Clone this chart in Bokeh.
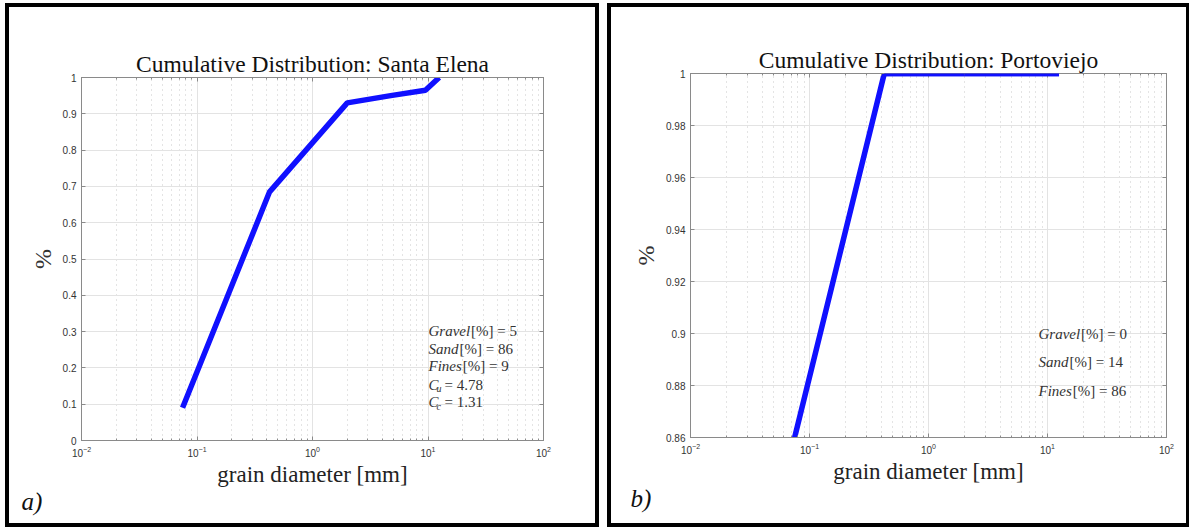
import numpy as np
from bokeh.plotting import figure
from bokeh.models import (LogAxis, LinearAxis, Title, ColumnDataSource, FixedTicker,
                          LogTicker, Range1d, CustomJSTickFormatter, Arrow)
from bokeh.layouts import row, column
from bokeh.embed import file_html
from bokeh.resources import INLINE
from bokeh.core.properties import value

# ---------------- data ----------------
se_title = "Cumulative Distribution: Santa Elena"
pv_title = "Cumulative Distribution: Portoviejo"
x_label = "grain diameter [mm]"
y_label = "%"

se_diam = [0.075, 0.425, 2.0, 4.75, 9.5, 12.5]
se_cum = [0.09, 0.685, 0.93, 0.95, 0.965, 1.0]

pv_diam = [0.075, 0.425, 2.0, 4.75, 9.5, 12.5]
pv_cum = [0.86, 1.0, 1.0, 1.0, 1.0, 1.0]

x_ticks = [0.01, 0.1, 1, 10, 100]
se_yticks = [0, 0.1, 0.2, 0.3, 0.4, 0.5, 0.6, 0.7, 0.8, 0.9, 1.0]
pv_yticks = [0.86, 0.88, 0.9, 0.92, 0.94, 0.96, 0.98, 1.0]

se_ann_word = ["Gravel", "Sand", "Fines", "C", "C"]
se_ann_sub = ["", "", "", "u", "c"]
se_ann_rest = ["[%] = 5", "[%] = 86", "[%] = 9", "= 4.78", "= 1.31"]
se_ann_y = [0.303, 0.253, 0.204, 0.154, 0.105]
se_ann_x = 10.1

pv_ann_word = ["Gravel", "Sand", "Fines"]
pv_ann_sub = ["", "", ""]
pv_ann_rest = ["[%] = 0", "[%] = 14", "[%] = 86"]
pv_ann_y = [0.900, 0.889, 0.878]
pv_ann_x = 8.4

SERIF = "Liberation Serif"
SANS = "Liberation Sans"
GRID = "#e3e3e3"
AX = "#8a8a8a"
TICKTXT = "#333333"
BLUE = "#1010ff"


def word_width(w, size):
    widths = {"G": 0.72, "S": 0.5, "F": 0.61, "C": 0.67, "r": 0.39, "a": 0.5,
              "v": 0.44, "e": 0.44, "l": 0.28, "n": 0.5, "d": 0.5, "i": 0.28, "s": 0.39}
    return sum(widths.get(c, 0.5) for c in w) * size


def make_panel(title, xs, ys, ylo, yhi, yticks, ann_x, ann_y, words, subs, rests,
               width, height, mb_left, mb_right, mb_top, mb_bottom, tag):
    p = figure(width=width, height=height, x_axis_type="log",
               x_range=Range1d(0.01, 100), y_range=Range1d(ylo, yhi),
               output_backend="svg", toolbar_location=None,
               min_border_left=mb_left, min_border_right=mb_right,
               min_border_top=mb_top, min_border_bottom=mb_bottom)
    p.title.text = title
    p.title.text_font = SERIF
    p.title.text_font_size = "23.5px"
    p.title.text_font_style = "normal"
    p.title.align = "center"
    p.title.text_color = "#111111"
    p.title.standoff = 1

    p.outline_line_color = AX
    p.background_fill_color = "white"
    p.border_fill_color = "white"

    xa = p.xaxis[0]
    xa.ticker = LogTicker(desired_num_ticks=5, num_minor_ticks=10)
    xa.axis_label = x_label
    xa.axis_label_text_font = SERIF
    xa.axis_label_text_font_size = "23px"
    xa.axis_label_text_font_style = "normal"
    xa.axis_label_text_color = "#222222"
    xa.axis_label_standoff = 2
    xa.major_label_text_font = SANS
    xa.major_label_text_font_size = "10px"
    xa.major_label_text_color = TICKTXT
    xa.axis_line_color = AX
    xa.major_tick_line_color = AX
    xa.minor_tick_line_color = AX
    xa.major_tick_in = 4
    xa.major_tick_out = 0
    xa.minor_tick_in = 2
    xa.minor_tick_out = 0
    xa.major_label_standoff = 5

    ya = p.yaxis[0]
    ya.ticker = FixedTicker(ticks=yticks)
    ya.formatter = CustomJSTickFormatter(code="return String(+tick.toFixed(4));")
    ya.axis_label = y_label
    ya.axis_label_text_font = SERIF
    ya.axis_label_text_font_size = "24px"
    ya.axis_label_text_font_style = "normal"
    ya.axis_label_text_color = "#333333"
    ya.axis_label_standoff = 4
    ya.major_label_text_font = SANS
    ya.major_label_text_font_size = "10px"
    ya.major_label_text_color = TICKTXT
    ya.axis_line_color = AX
    ya.major_tick_line_color = AX
    ya.minor_tick_line_color = None
    ya.major_tick_in = 4
    ya.major_tick_out = 0
    ya.major_label_standoff = 5

    top = LogAxis(ticker=LogTicker(desired_num_ticks=5, num_minor_ticks=10),
                  major_label_text_font_size="1px", major_label_text_alpha=0,
                  axis_line_color=AX,
                  major_tick_line_color=AX, minor_tick_line_color=AX,
                  major_tick_in=4, major_tick_out=0, minor_tick_in=2, minor_tick_out=0,
                  major_label_standoff=0)
    right = LinearAxis(ticker=FixedTicker(ticks=yticks),
                       major_label_text_font_size="1px", major_label_text_alpha=0,
                       axis_line_color=AX,
                       major_tick_line_color=AX, minor_tick_line_color=None,
                       major_tick_in=4, major_tick_out=0, major_label_standoff=0)
    p.add_layout(top, "above")
    p.add_layout(right, "right")

    p.xgrid.grid_line_color = GRID
    p.xgrid.ticker = LogTicker(desired_num_ticks=5, num_minor_ticks=10)
    p.xgrid.minor_grid_line_color = "#c8c8c8"
    p.xgrid.minor_grid_line_dash = "1 4"
    p.xgrid.minor_grid_line_width = 1
    p.ygrid.grid_line_color = GRID
    p.ygrid.ticker = FixedTicker(ticks=yticks)

    src = ColumnDataSource(dict(x=xs, y=ys))
    p.line("x", "y", source=src, line_color=BLUE, line_width=5.5)
    for i in range(len(xs) - 1):
        if ys[i] == ys[i + 1] == yhi:
            p.add_layout(Arrow(end=None, start=None, x_start=xs[i], y_start=ys[i],
                               x_end=xs[i + 1], y_end=ys[i + 1],
                               line_color=BLUE, line_width=5.5, level="overlay"))

    fs = 15
    n = len(words)
    wsrc = ColumnDataSource(dict(x=[ann_x] * n, y=ann_y, t=words))
    p.text("x", "y", text="t", source=wsrc, text_font=value(SERIF),
           text_font_style="italic", text_font_size=f"{fs}px",
           text_baseline="middle", text_align="left", text_color="#333333")
    offs = [word_width(w, fs) + (1 if s == "" else 0) for w, s in zip(words, subs)]
    sub_idx = [i for i, s in enumerate(subs) if s]
    if sub_idx:
        ssrc = ColumnDataSource(dict(x=[ann_x] * len(sub_idx),
                                     y=[ann_y[i] for i in sub_idx],
                                     t=[subs[i] for i in sub_idx],
                                     xo=[offs[i] - 2 for i in sub_idx]))
        p.text("x", "y", text="t", source=ssrc, x_offset="xo", y_offset=4,
               text_font=value(SERIF), text_font_style="italic", text_font_size="10px",
               text_baseline="middle", text_align="left", text_color="#333333")
        for i in sub_idx:
            offs[i] += 6
    rsrc = ColumnDataSource(dict(x=[ann_x] * n, y=ann_y,
                                 t=[(" " + r if r.startswith("=") else r) for r in rests],
                                 xo=offs))
    p.text("x", "y", text="t", source=rsrc, x_offset="xo", text_font=value(SERIF),
           text_font_size=f"{fs}px", text_baseline="middle", text_align="left",
           text_color="#333333")

    tag_t = Title(text=tag, align="left", text_font=SERIF, text_font_style="italic",
                  text_font_size="25px", text_color="#111111", offset=-60, standoff=-8)
    p.add_layout(tag_t, "below")
    return p


BORDER = {"border": "4px solid black"}

p1 = make_panel(se_title, se_diam, se_cum, 0, 1, se_yticks, se_ann_x, se_ann_y,
                se_ann_word, se_ann_sub, se_ann_rest,
                width=586, height=516, mb_left=72, mb_right=52, mb_top=70, mb_bottom=83,
                tag="a)")
p2 = make_panel(pv_title, pv_diam, pv_cum, 0.86, 1.0, pv_yticks, pv_ann_x, pv_ann_y,
                pv_ann_word, pv_ann_sub, pv_ann_rest,
                width=575, height=516, mb_left=79, mb_right=20, mb_top=66, mb_bottom=86,
                tag="b)")

c1 = column(p1, styles=BORDER)
c2 = column(p2, styles=BORDER)
c1.margin = (3, 0, 0, 5)
c2.margin = (3, 0, 0, 0)
layout = row(c1, c2, spacing=8)

open("out.html", "w").write(file_html(layout, INLINE))
